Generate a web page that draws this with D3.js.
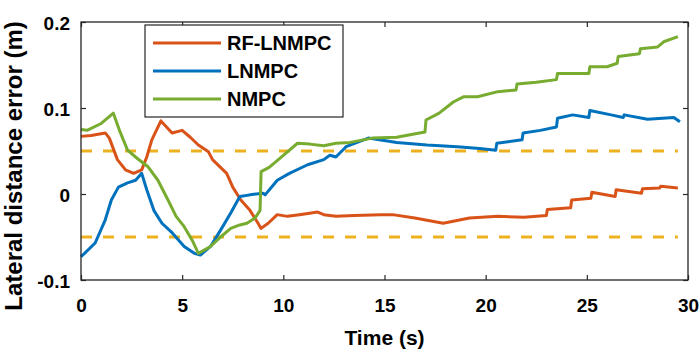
<!DOCTYPE html>
<html>
<head>
<meta charset="utf-8">
<script src="https://cdn.jsdelivr.net/npm/d3@7"></script>
<style>
  body { margin: 0; background: #fff; }
  text { font-family: "Liberation Sans", Arial, sans-serif; font-weight: bold; fill: #000; }
</style>
</head>
<body>
<script>
// ---- data ----
const rfT = [0, 0.5, 1.2, 1.4, 1.8, 2.2, 2.6, 3.0, 3.25, 3.5, 3.95, 4.5, 5.0, 5.4, 5.8, 6.3, 6.5, 7.2, 7.5, 7.9, 8.35, 8.75, 8.9, 9.25, 9.7, 10.2, 10.8, 11.7, 12.0, 12.6, 13.5, 14.8, 15.4, 16.5, 17.9, 19.2, 20.6, 21.9, 23.0, 23.05, 24.2, 24.25, 25.2, 25.25, 26.4, 26.45, 27.7, 27.75, 28.6, 28.65, 29.5];
const rfV = [0.067, 0.068, 0.071, 0.065, 0.040, 0.028, 0.024, 0.028, 0.043, 0.063, 0.085, 0.071, 0.074, 0.066, 0.057, 0.049, 0.040, 0.024, 0.008, -0.007, -0.019, -0.034, -0.040, -0.034, -0.024, -0.026, -0.024, -0.021, -0.024, -0.026, -0.025, -0.024, -0.024, -0.028, -0.034, -0.028, -0.026, -0.027, -0.025, -0.018, -0.016, -0.007, -0.005, 0.002, -0.003, 0.005, 0.001, 0.006, 0.007, 0.009, 0.007];

const lnT = [0, 0.7, 1.2, 1.5, 1.85, 2.3, 2.7, 3.0, 3.25, 3.6, 4.0, 4.5, 5.1, 5.6, 5.9, 6.4, 6.9, 7.4, 7.85, 8.35, 9.0, 9.1, 9.7, 10.3, 11.2, 12.0, 12.3, 12.6, 13.1, 14.2, 15.6, 17.1, 18.6, 19.7, 20.5, 20.55, 21.8, 21.85, 22.7, 23.5, 23.55, 24.3, 25.1, 25.15, 26.2, 26.8, 26.85, 28.0, 29.3, 29.6];
const lnV = [-0.073, -0.057, -0.030, -0.007, 0.008, 0.013, 0.016, 0.024, 0.005, -0.019, -0.034, -0.045, -0.061, -0.069, -0.071, -0.061, -0.042, -0.022, -0.003, -0.001, 0.001, -0.001, 0.016, 0.024, 0.034, 0.040, 0.045, 0.043, 0.055, 0.065, 0.060, 0.057, 0.055, 0.053, 0.051, 0.059, 0.063, 0.071, 0.074, 0.078, 0.088, 0.092, 0.089, 0.097, 0.092, 0.089, 0.092, 0.087, 0.089, 0.084];

const nmT = [0, 0.3, 1.0, 1.6, 1.9, 2.3, 2.8, 3.3, 3.8, 4.3, 4.7, 5.1, 5.5, 5.8, 6.4, 6.9, 7.4, 7.85, 8.2, 8.6, 8.85, 8.9, 9.3, 10.0, 10.7, 11.3, 12.0, 12.6, 13.3, 14.4, 15.6, 17.0, 17.05, 17.7, 18.4, 18.9, 19.6, 20.6, 21.5, 21.55, 22.5, 23.5, 23.55, 25.1, 25.15, 26.0, 26.5, 26.55, 27.6, 27.65, 28.5, 28.8, 29.5];
const nmV = [0.075, 0.074, 0.082, 0.094, 0.074, 0.051, 0.041, 0.032, 0.016, -0.007, -0.026, -0.038, -0.054, -0.069, -0.061, -0.050, -0.040, -0.036, -0.034, -0.028, -0.019, 0.026, 0.031, 0.045, 0.059, 0.058, 0.056, 0.059, 0.060, 0.065, 0.066, 0.072, 0.086, 0.094, 0.107, 0.113, 0.113, 0.119, 0.121, 0.128, 0.130, 0.133, 0.140, 0.140, 0.148, 0.148, 0.152, 0.160, 0.163, 0.169, 0.171, 0.177, 0.183];

const boundT = [0, 29.5];
const bounds = [0.05, -0.05];

const seriesNames = ['RF-LNMPC', 'LNMPC', 'NMPC'];
const xTicks = [0, 5, 10, 15, 20, 25, 30];
const yTicks = [-0.1, 0, 0.1, 0.2];
const yTickLabels = ['-0.1', '0', '0.1', '0.2'];

// ---- layout ----
const outerW = 700, outerH = 353;
const margin = { left: 81, right: 12, top: 22, bottom: 73 };
const w = outerW - margin.left - margin.right;
const h = outerH - margin.top - margin.bottom;
const colors = ['#D95319', '#0072BD', '#77AC30'];
const axisColor = '#262626';

const svg = d3.select('body').append('svg')
    .attr('width', outerW)
    .attr('height', outerH);

const g = svg.append('g')
    .attr('transform', 'translate(' + margin.left + ',' + margin.top + ')');

const x = d3.scaleLinear().domain([0, 30]).range([0, w]);
const y = d3.scaleLinear().domain([-0.1, 0.2]).range([h, 0]);

// dashed bounds
const line = d3.line().x(d => x(d[0])).y(d => y(d[1]));
bounds.forEach(b => {
    g.append('path')
        .attr('d', line(boundT.map(t => [t, b])))
        .attr('fill', 'none')
        .attr('stroke', '#EDB120')
        .attr('stroke-width', 3)
        .attr('stroke-dasharray', '11,11');
});

// series
const series = [
    d3.zip(rfT, rfV),
    d3.zip(lnT, lnV),
    d3.zip(nmT, nmV)
];
series.forEach((s, i) => {
    g.append('path')
        .attr('d', line(s))
        .attr('fill', 'none')
        .attr('stroke', colors[i])
        .attr('stroke-width', 3)
        .attr('stroke-linejoin', 'round');
});

// axes (ticks pointing inward)
function styleAxis(sel) {
    sel.select('.domain').remove();
    sel.selectAll('line').attr('stroke', axisColor).attr('stroke-width', 1.2);
    sel.selectAll('text').style('font-size', '19px').attr('fill', '#000');
}

g.append('g')
    .attr('transform', 'translate(0,' + h + ')')
    .call(d3.axisBottom(x).tickValues(xTicks).tickSize(-5).tickPadding(19).tickFormat(d3.format('d')))
    .call(styleAxis);

g.append('g')
    .call(d3.axisTop(x).tickValues(xTicks).tickSize(-5).tickFormat(''))
    .call(styleAxis);

g.append('g')
    .call(d3.axisLeft(y).tickValues(yTicks).tickSize(-5).tickPadding(11)
        .tickFormat((d, i) => yTickLabels[i]))
    .call(styleAxis)
    .selectAll('text').attr('dy', '0.42em');

g.append('g')
    .attr('transform', 'translate(' + w + ',0)')
    .call(d3.axisRight(y).tickValues(yTicks).tickSize(-5).tickFormat(''))
    .call(styleAxis);

g.append('rect')
    .attr('width', w)
    .attr('height', h)
    .attr('fill', 'none')
    .attr('stroke', axisColor)
    .attr('stroke-width', 1.3);

// axis titles
svg.append('text')
    .attr('x', margin.left + w / 2)
    .attr('y', 345)
    .attr('text-anchor', 'middle')
    .style('font-size', '21px')
    .text('Time (s)');

svg.append('text')
    .attr('transform', 'translate(22,166) rotate(-90)')
    .attr('text-anchor', 'middle')
    .style('font-size', '24px')
    .text('Lateral distance error (m)');

// legend
const legend = svg.append('g').attr('transform', 'translate(145,25)');
legend.append('rect')
    .attr('width', 198)
    .attr('height', 92)
    .attr('fill', '#fff')
    .attr('stroke', axisColor)
    .attr('stroke-width', 1.2);

seriesNames.forEach((name, i) => {
    const ly = 18 + i * 28;
    legend.append('line')
        .attr('x1', 8).attr('x2', 76)
        .attr('y1', ly).attr('y2', ly)
        .attr('stroke', colors[i])
        .attr('stroke-width', 3);
    legend.append('text')
        .attr('x', 82)
        .attr('y', ly)
        .attr('dy', '0.36em')
        .style('font-size', '20px')
        .text(name);
});
</script>
</body>
</html>
